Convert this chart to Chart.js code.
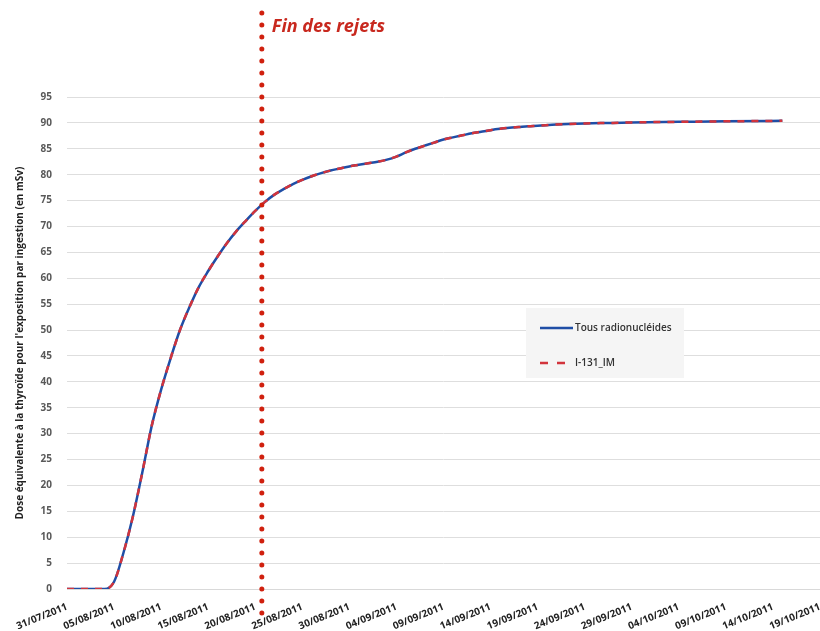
<!DOCTYPE html>
<html>
<head>
<meta charset="utf-8">
<script src="https://cdn.jsdelivr.net/npm/chart.js@4"></script>
<style>
  html, body { margin: 0; padding: 0; background: #fff; }
  #wrap { width: 820px; height: 631px; }
</style>
</head>
<body>
<div id="wrap"><canvas id="chart" width="820" height="631"></canvas></div>
<script>
// days counted from 31/07/2011
const days = [0,1,2,3,4,5,6,7,8,9,10,11,12,13,14,15,16,17,18,19,20,21,22,23,24,25,26,27,28,29,30,31,32,33,34,35,36,37,38,39,40,41,42,43,44,45,46,47,48,49,50,52,55,58,60,65,70,76];
const doseTous = [0,0,0,0,0,1.4,7,14,22.5,31.5,38.5,44.5,50,54.4,58.3,61.4,64.2,66.8,69.1,71.1,73,74.7,76.1,77.2,78.2,79,79.7,80.3,80.8,81.2,81.6,81.9,82.2,82.5,82.9,83.5,84.3,85,85.6,86.2,86.8,87.2,87.6,88,88.3,88.6,88.85,89.05,89.2,89.35,89.45,89.7,89.9,90,90.1,90.2,90.3,90.4];
const doseI131 = [0,0,0,0,0,1.4,7,14,22.5,31.5,38.5,44.5,50,54.4,58.3,61.4,64.2,66.8,69.1,71.1,73,74.7,76.1,77.2,78.2,79,79.7,80.3,80.8,81.2,81.6,81.9,82.2,82.5,82.9,83.5,84.3,85,85.6,86.2,86.8,87.2,87.6,88,88.3,88.6,88.85,89.05,89.2,89.35,89.45,89.7,89.9,90,90.1,90.2,90.3,90.4];
const xTickLabels = ['31/07/2011','05/08/2011','10/08/2011','15/08/2011','20/08/2011','25/08/2011','30/08/2011','04/09/2011','09/09/2011','14/09/2011','19/09/2011','24/09/2011','29/09/2011','04/10/2011','09/10/2011','14/10/2011','19/10/2011'];
const finRejetsDay = 20.7;
const seriesNames = ['Tous radionucléides', 'I-131_IM'];

Chart.defaults.font.family = "'Open Sans', sans-serif";

const overlay = {
    id: 'overlay',
    afterDatasetsDraw(chart) {
        const ctx = chart.ctx;
        const x = chart.scales.x.getPixelForValue(finRejetsDay);
        ctx.save();
        // dotted vertical line
        ctx.fillStyle = '#d0200e';
        for (let y = 13; y < 624; y += 12) {
            ctx.beginPath();
            ctx.arc(x, y, 2.5, 0, Math.PI * 2);
            ctx.fill();
        }
        ctx.fillStyle = '#c8281e';
        ctx.font = "italic bold 18px 'Open Sans', sans-serif";
        ctx.textBaseline = 'alphabetic';
        ctx.fillText('Fin des rejets', x + 10, 32);

        // legend
        ctx.fillStyle = '#f5f5f5';
        ctx.fillRect(526, 308, 158, 70);
        ctx.lineWidth = 2.5;
        ctx.strokeStyle = '#1f4ea6';
        ctx.beginPath();
        ctx.moveTo(540, 328);
        ctx.lineTo(573, 328);
        ctx.stroke();
        ctx.strokeStyle = '#d2343c';
        ctx.setLineDash([8, 9]);
        ctx.beginPath();
        ctx.moveTo(540, 363);
        ctx.lineTo(566, 363);
        ctx.stroke();
        ctx.setLineDash([]);
        ctx.fillStyle = '#333';
        ctx.font = "600 10px 'Open Sans', sans-serif";
        ctx.textBaseline = 'middle';
        ctx.fillText(seriesNames[0], 575, 328);
        ctx.fillText(seriesNames[1], 575, 363);
        ctx.restore();
    }
};

new Chart(document.getElementById('chart').getContext('2d'), {
    type: 'line',
    data: {
        datasets: [{
            label: seriesNames[0],
            data: days.map((d, i) => ({ x: d, y: doseTous[i] })),
            borderColor: '#1f4ea6',
            borderWidth: 2.5,
            pointRadius: 0,
            cubicInterpolationMode: 'monotone',
            fill: false,
            order: 2
        }, {
            label: seriesNames[1],
            data: days.map((d, i) => ({ x: d, y: doseI131[i] })),
            borderColor: '#d2343c',
            borderWidth: 2.5,
            borderDash: [7, 7],
            pointRadius: 0,
            cubicInterpolationMode: 'monotone',
            fill: false,
            order: 1
        }]
    },
    options: {
        responsive: false,
        animation: false,
        layout: { padding: { top: 97, right: -5, left: 0, bottom: 0 } },
        plugins: {
            legend: { display: false },
            tooltip: { enabled: false }
        },
        scales: {
            x: {
                type: 'linear',
                min: 0,
                max: 80,
                afterFit: (scale) => {
                    scale.height = 42;
                    scale.paddingRight = 0;
                    scale.paddingLeft = 0;
                },
                grid: { display: false },
                border: { color: '#d9d9d9' },
                ticks: {
                    stepSize: 5,
                    autoSkip: false,
                    minRotation: 22,
                    maxRotation: 22,
                    padding: 4,
                    color: '#222',
                    font: { size: 10, weight: 'bold' },
                    callback: (v) => xTickLabels[v / 5]
                }
            },
            y: {
                min: 0,
                max: 95,
                afterFit: (scale) => { scale.width = 67; },
                grid: { color: '#dedede', drawTicks: false },
                border: { display: false },
                ticks: {
                    stepSize: 5,
                    padding: 15,
                    color: '#595959',
                    font: { size: 10, weight: 'bold' }
                },
                title: {
                    display: true,
                    text: "Dose équivalente à la thyroïde pour l'exposition par ingestion (en mSv)",
                    color: '#222',
                    font: { size: 10, weight: 'bold' },
                    padding: { top: 14, bottom: 0 }
                }
            }
        }
    },
    plugins: [overlay]
});
</script>
</body>
</html>
